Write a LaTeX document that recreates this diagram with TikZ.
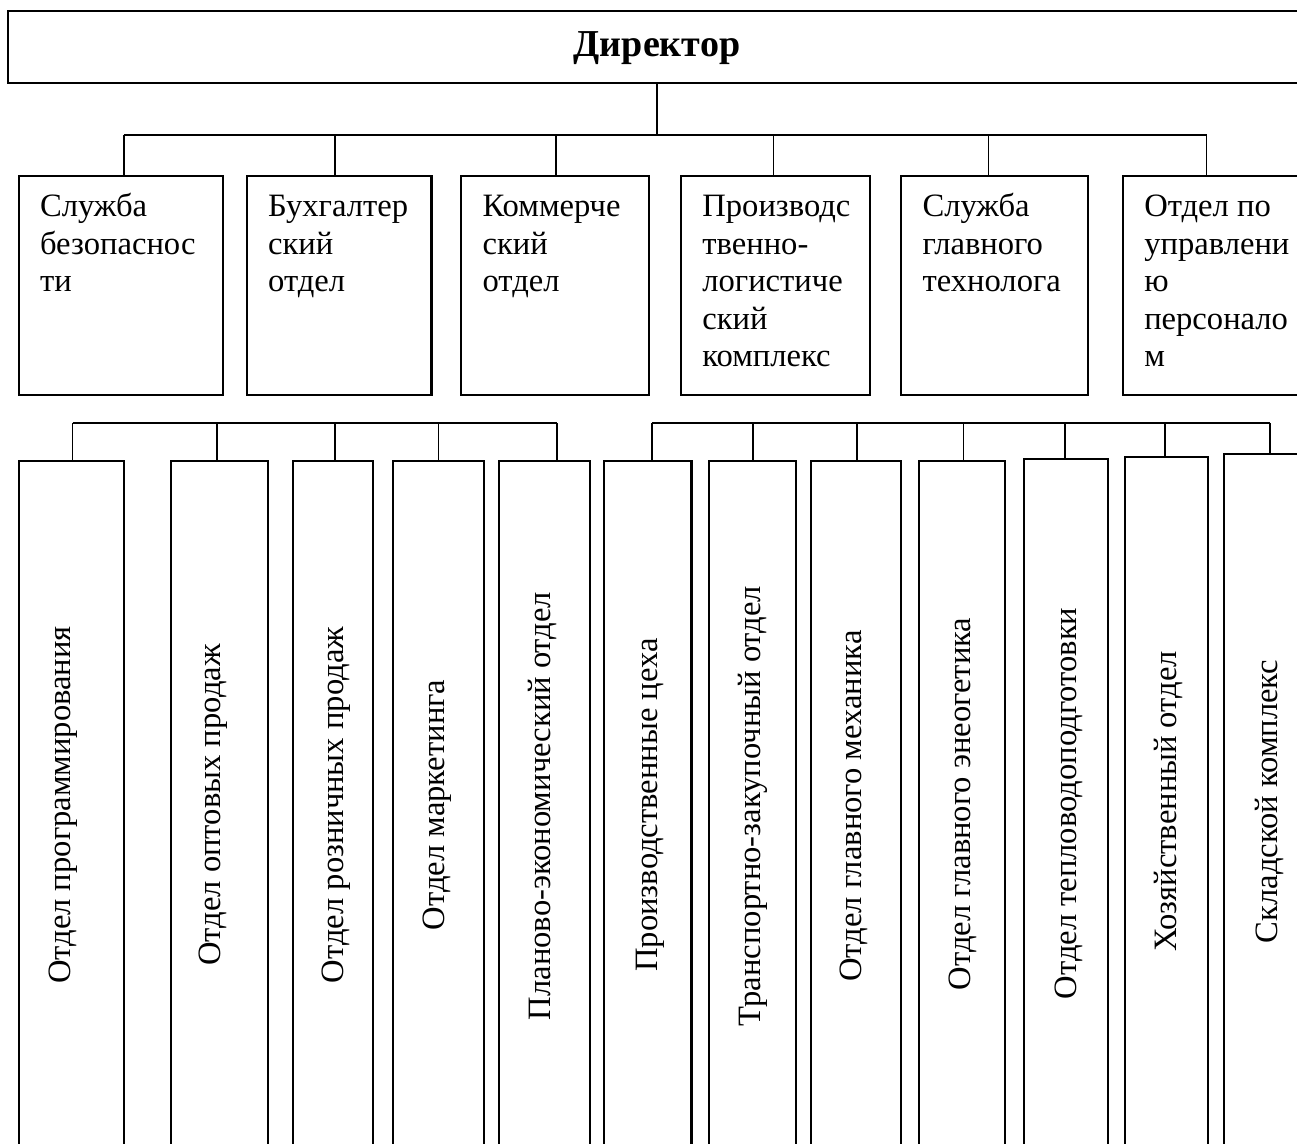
\documentclass[tikz,border=0pt]{standalone}
\usepackage{fontspec}
\setmainfont{Liberation Serif}
\usetikzlibrary{fit,calc}
\newcommand{\boxlines}[1]{\begin{tabular}[t]{@{}l@{}}#1\end{tabular}}

\begin{document}
\begin{tikzpicture}[x=0.368pt, y=-0.368pt,
  box/.style={draw, line width=0.75pt, inner sep=0pt},
  toptext/.style={font=\fontsize{12}{13.8}\selectfont, inner sep=0pt, anchor=base west},
  sidetext/.style={font=\fontsize{12}{13.8}\selectfont, inner sep=0pt, rotate=90, anchor=base},
  bus/.style={line width=0.75pt},
  drop/.style={line width=0.6pt}]
\useasboundingbox (0,0) rectangle (1297,1144);
\clip (0,0) rectangle (1297,1144);

\node (dir) [box, fit={(8,10.7) (1306,82.7)}] {};
\node (dirt) [font=\bfseries\fontsize{14}{16}\selectfont, inner sep=0pt, anchor=base] at (657,56.7) {Директор};

\node (sl1) [box, fit={(18.7,176) (223,395)}] {};
\node (sl2) [box, fit={(247,176) (431.5,395)}] {};
\node (sl3) [box, fit={(461,176) (649,395)}] {};
\node (sl4) [box, fit={(681,176) (870,395)}] {};
\node (sl5) [box, fit={(901,176) (1088,395)}] {};
\node (sl6) [box, fit={(1123,176) (1310,395)}] {};
\node (sl1t) [toptext] at (39.5,216.7) {\boxlines{Служба\\безопаснос\\ти}};
\node (sl2t) [toptext] at (267.6,216.7) {\boxlines{Бухгалтер\\ский\\отдел}};
\node (sl3t) [toptext] at (482,216.7) {\boxlines{Коммерче\\ский\\отдел}};
\node (sl4t) [toptext] at (701.8,216.7) {\boxlines{Производс\\твенно-\\логистиче\\ский\\комплекс}};
\node (sl5t) [toptext] at (922,216.7) {\boxlines{Служба\\главного\\технолога}};
\node (sl6t) [toptext] at (1143.7,216.7) {\boxlines{Отдел по\\управлени\\ю\\персонало\\м}};

\node (ot1) [box, fit={(18.7,460.7) (123.6,1160)}] {};
\node (ot2) [box, fit={(171,460.7) (267.6,1160)}] {};
\node (ot3) [box, fit={(293,460.7) (373,1160)}] {};
\node (ot4) [box, fit={(393,460.7) (484,1160)}] {};
\node (ot5) [box, fit={(499,460.7) (590,1160)}] {};
\node (ot6) [box, fit={(604,460.7) (691.5,1160)}] {};
\node (ot7) [box, fit={(709,460.7) (795.6,1160)}] {};
\node (ot8) [box, fit={(810.7,460.7) (901,1160)}] {};
\node (ot9) [box, fit={(918.7,460.7) (1005,1160)}] {};
\node (ot10) [box, fit={(1024,459) (1107.6,1160)}] {};
\node (ot11) [box, fit={(1125,456.7) (1207.6,1160)}] {};
\node (ot12) [box, fit={(1224,454) (1316,1160)}] {};
\node (ot1t) [sidetext] at (70,805) {Отдел программирования};
\node (ot2t) [sidetext] at (220.7,805) {Отдел оптовых продаж};
\node (ot3t) [sidetext] at (343,805) {Отдел розничных продаж};
\node (ot4t) [sidetext] at (444,805) {Отдел маркетинга};
\node (ot5t) [sidetext] at (550,806) {Планово-экономический отдел};
\node (ot6t) [sidetext] at (657,805) {Производственные цеха};
\node (ot7t) [sidetext] at (760,806) {Транспортно-закупочный отдел};
\node (ot8t) [sidetext] at (861.7,806) {Отдел главного механика};
\node (ot9t) [sidetext] at (970,804) {Отдел главного энеогетика};
\node (ot10t) [sidetext] at (1076.7,803.5) {Отдел тепловодоподготовки};
\node (ot11t) [sidetext] at (1176.7,801.5) {Хозяйственный отдел};
\node (ot12t) [sidetext] at (1277,801.5) {Складской комплекс};

\coordinate (topbus) at (0,135);
\coordinate (lowbus) at (0,423);
\draw [drop] (dir.south) -- (dir.south |- topbus);
\foreach \n/\s in {sl1/3, sl2/-4, sl3/1, sl4/-2, sl5/-6, sl6/-10,
  ot1/1.5, ot2/-2, ot3/2, ot4/0, ot5/12.5, ot6/4, ot7/1, ot8/1, ot9/1.5, ot10/-1, ot11/-1, ot12/0}
  \coordinate (\n-up) at ($(\n.north)+(\s,0)$);
\draw [bus] (sl1-up |- topbus) -- (sl6-up |- topbus);
\draw [bus] (ot1-up |- lowbus) -- (ot5-up |- lowbus);
\draw [bus] (ot6-up |- lowbus) -- (ot12-up |- lowbus);
\foreach \n in {sl1,sl2,sl3,sl4,sl5,sl6}
  \draw [drop] (\n-up |- topbus) -- (\n-up);
\foreach \n in {ot1,ot2,ot3,ot4,ot5,ot6,ot7,ot8,ot9,ot10,ot11,ot12}
  \draw [drop] (\n-up |- lowbus) -- (\n-up);
\end{tikzpicture}
\end{document}
